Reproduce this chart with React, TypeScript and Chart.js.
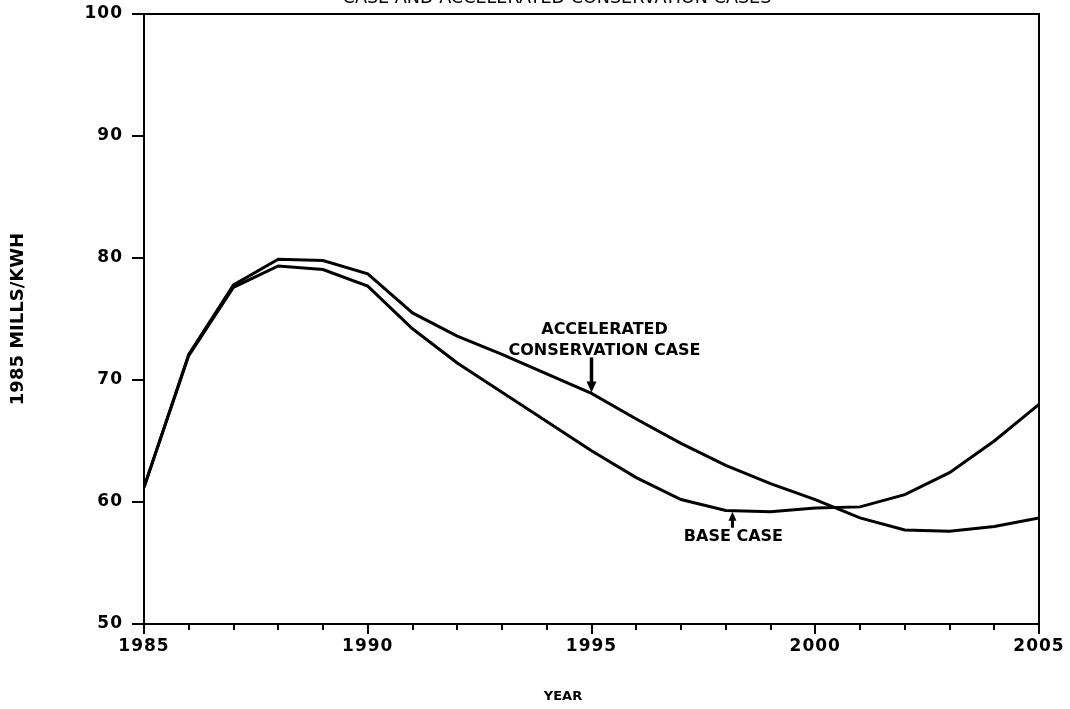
import React, { useEffect, useRef } from "react";
import { Chart, registerables } from "chart.js";

Chart.register(...registerables);

// Annual series, 1985 mills per kWh
const years = [1985, 1986, 1987, 1988, 1989, 1990, 1991, 1992, 1993, 1994, 1995, 1996, 1997, 1998, 1999, 2000, 2001, 2002, 2003, 2004, 2005];
const baseCase = [61.2, 72.0, 77.6, 79.35, 79.05, 77.7, 74.2, 71.4, 69.0, 66.6, 64.2, 62.0, 60.2, 59.3, 59.2, 59.5, 59.6, 60.6, 62.4, 65.0, 68.0];
const acceleratedCase = [61.2, 72.1, 77.8, 79.9, 79.8, 78.7, 75.5, 73.6, 72.1, 70.5, 68.9, 66.8, 64.8, 63.0, 61.5, 60.2, 58.7, 57.7, 57.6, 58.0, 58.7];

const yTickValues = [50, 60, 70, 80, 90, 100];
const xTickLabels = [1985, 1990, 1995, 2000, 2005];

const titleText = "CASE AND ACCELERATED CONSERVATION CASES";
const xAxisTitle = "YEAR";
const yAxisTitle = "1985 MILLS/KWH";
const acceleratedLabel = ["ACCELERATED", "CONSERVATION CASE"];
const acceleratedLabelYear = 1995;
const baseLabel = "BASE CASE";
const baseLabelYear = 1998.15;

const BOLD = "bold 16px 'DejaVu Sans'";
const TICK_FONT = { family: "'DejaVu Sans'", size: 17, weight: "bold" as const };

function valueAt(series: number[], year: number): number {
  const i = Math.min(Math.floor(year - years[0]), years.length - 2);
  const t = year - years[i];
  return series[i] + (series[i + 1] - series[i]) * t;
}

const decorations = {
  id: "decorations",
  beforeDraw(chart: any) {
    const ctx = chart.ctx;
    ctx.save();
    ctx.fillStyle = "#fff";
    ctx.fillRect(0, 0, chart.width, chart.height);
    ctx.restore();
    // slightly wider spacing for the axis tick labels
    ctx.letterSpacing = "1px";
  },
  afterDraw(chart: any) {
    const ctx = chart.ctx;
    const xs = chart.scales.x;
    const ys = chart.scales.y;
    const { left, right, top, bottom } = chart.chartArea;
    ctx.save();
    ctx.letterSpacing = "0px";
    ctx.strokeStyle = "#000";
    ctx.fillStyle = "#000";
    ctx.lineWidth = 2;

    // top and right frame
    ctx.beginPath();
    ctx.moveTo(left, top);
    ctx.lineTo(right, top);
    ctx.lineTo(right, bottom + 1);
    ctx.stroke();

    // yearly ticks below the x axis, longer every five years
    for (const yr of years) {
      const px = Math.round(xs.getPixelForValue(yr));
      const len = yr % 5 === 0 ? 10 : 6;
      ctx.beginPath();
      ctx.moveTo(px, bottom);
      ctx.lineTo(px, bottom + len);
      ctx.stroke();
    }

    // accelerated conservation case arrow and label
    const ax = xs.getPixelForValue(acceleratedLabelYear);
    const ay = ys.getPixelForValue(valueAt(acceleratedCase, acceleratedLabelYear));
    ctx.lineWidth = 3.5;
    ctx.beginPath();
    ctx.moveTo(ax, ay - 36);
    ctx.lineTo(ax, ay - 10);
    ctx.stroke();
    ctx.beginPath();
    ctx.moveTo(ax - 5, ay - 12);
    ctx.lineTo(ax + 5, ay - 12);
    ctx.lineTo(ax, ay - 1);
    ctx.closePath();
    ctx.fill();
    ctx.font = BOLD;
    ctx.textAlign = "center";
    ctx.textBaseline = "middle";
    ctx.fillText(acceleratedLabel[0], ax + 13, ay - 64);
    ctx.fillText(acceleratedLabel[1], ax + 13, ay - 43);

    // base case arrow and label
    const bx = xs.getPixelForValue(baseLabelYear);
    const by = ys.getPixelForValue(valueAt(baseCase, baseLabelYear));
    ctx.lineWidth = 3;
    ctx.beginPath();
    ctx.moveTo(bx, by + 8);
    ctx.lineTo(bx, by + 17);
    ctx.stroke();
    ctx.beginPath();
    ctx.moveTo(bx - 4, by + 10);
    ctx.lineTo(bx + 4, by + 10);
    ctx.lineTo(bx, by + 1);
    ctx.closePath();
    ctx.fill();
    ctx.fillText(baseLabel, bx + 1, by + 26);

    // axis titles
    ctx.font = "bold 13px 'DejaVu Sans'";
    ctx.fillText(xAxisTitle, 563, 697);

    ctx.save();
    ctx.translate(18, (top + bottom) / 2);
    ctx.rotate(-Math.PI / 2);
    ctx.font = "bold 18px 'DejaVu Sans'";
    ctx.fillText(yAxisTitle, 0, 0);
    ctx.restore();

    // chart heading (runs off the top edge)
    ctx.font = "17.6px 'DejaVu Sans'";
    ctx.textBaseline = "alphabetic";
    ctx.fillText(titleText, 557, 3);

    ctx.restore();
  },
};

export default function App() {
  const canvasRef = useRef<HTMLCanvasElement | null>(null);

  useEffect(() => {
    if (!canvasRef.current) return;
    const chart = new Chart(canvasRef.current, {
      type: "line",
      data: {
        datasets: [
          {
            label: "Base case",
            data: years.map((x, i) => ({ x, y: baseCase[i] })),
            borderColor: "#000",
            borderWidth: 3,
            pointRadius: 0,
            tension: 0,
            fill: false,
          },
          {
            label: "Accelerated conservation case",
            data: years.map((x, i) => ({ x, y: acceleratedCase[i] })),
            borderColor: "#000",
            borderWidth: 3,
            pointRadius: 0,
            tension: 0,
            fill: false,
          },
        ],
      },
      options: {
        animation: false,
        responsive: true,
        maintainAspectRatio: false,
        layout: { padding: { top: 14, right: 31, bottom: 0, left: 0 } },
        plugins: {
          legend: { display: false },
          title: { display: false },
          tooltip: { enabled: false },
        },
        scales: {
          x: {
            type: "linear",
            min: xTickLabels[0],
            max: xTickLabels[xTickLabels.length - 1],
            afterFit: (s: any) => {
              s.height = 85;
              s.paddingLeft = 0;
              s.paddingRight = 0;
            },
            afterBuildTicks: (s: any) => {
              s.ticks = xTickLabels.map((v) => ({ value: v }));
            },
            ticks: {
              padding: 12,
              color: "#000",
              maxRotation: 0,
              autoSkip: false,
              font: TICK_FONT,
              callback: (v: any) => String(v),
            },
            grid: { display: true, drawOnChartArea: false, drawTicks: false },
            border: { display: true, color: "#000", width: 2 },
          },
          y: {
            type: "linear",
            min: yTickValues[0],
            max: yTickValues[yTickValues.length - 1],
            afterFit: (s: any) => {
              s.width = 144;
              s.paddingTop = 0;
              s.paddingBottom = 0;
            },
            afterBuildTicks: (s: any) => {
              s.ticks = yTickValues.map((v) => ({ value: v }));
            },
            ticks: {
              padding: 9,
              color: "#000",
              font: TICK_FONT,
              callback: (v: any) => String(v),
            },
            grid: {
              display: true,
              drawOnChartArea: false,
              drawTicks: true,
              tickLength: 12,
              color: "#000",
              lineWidth: 2,
            },
            border: { display: true, color: "#000", width: 2 },
          },
        },
      },
      plugins: [decorations],
    });
    return () => chart.destroy();
  }, []);

  return (
    <div style={{ position: "fixed", left: 0, top: 0, width: 1070, height: 709, background: "#fff" }}>
      <canvas ref={canvasRef} />
    </div>
  );
}
